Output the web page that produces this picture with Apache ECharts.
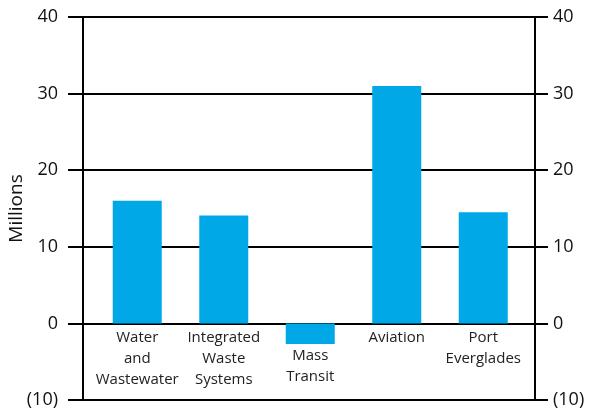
<!DOCTYPE html>
<html>
<head>
<meta charset="utf-8">
<script src="https://cdn.jsdelivr.net/npm/echarts@6/dist/echarts.min.js"></script>
<style>
  html, body { margin: 0; padding: 0; background: #fff; }
  #chart { width: 592px; height: 415px; }
</style>
</head>
<body>
<div id="chart"></div>
<script>
// Capital spending by department, in millions
const categories = ['Water\nand\nWastewater', 'Integrated\nWaste\nSystems', 'Mass\nTransit', 'Aviation', 'Port\nEverglades'];
const values = [16, 14.1, -2.7, 31, 14.5];
const yTicks = [-10, 0, 10, 20, 30, 40];

const FONT = '"Open Sans", "Noto Sans", sans-serif';
const tickFmt = v => (v < 0 ? '(' + Math.abs(v) + ')' : String(v));

const W = 592, H = 415;
const TOP = 17, BOTTOM = 15;
const yMin = yTicks[0], yMax = yTicks[yTicks.length - 1];
// category labels hang from the zero line, not from the bottom of the frame
const plotH = H - TOP - BOTTOM;
const zeroOffset = -plotH * (0 - yMin) / (yMax - yMin);

const yBase = {
  type: 'value',
  min: yMin,
  max: yMax,
  interval: yTicks[1] - yTicks[0]
};

const chart = echarts.init(document.getElementById('chart'), null, { renderer: 'canvas' });
chart.setOption({
  animation: false,
  backgroundColor: '#fff',
  grid: [
    // frame grid: axes, ticks and horizontal rules
    { left: 83, right: 57, top: TOP, bottom: BOTTOM, outerBoundsMode: 'none', containLabel: false },
    // bar grid: inset so the category bands sit inside the frame
    { left: 94, right: 65.5, top: TOP, bottom: BOTTOM, outerBoundsMode: 'none', containLabel: false }
  ],
  xAxis: [
    { gridIndex: 0, type: 'category', data: categories, show: false },
    {
      gridIndex: 1, type: 'category', data: categories,
      position: 'bottom', offset: zeroOffset,
      axisLine: { show: false, onZero: false },
      axisTick: { show: false },
      axisLabel: {
        interval: 0, margin: 4, color: '#222', fontFamily: FONT, fontSize: 15, lineHeight: 21,
        formatter: (v, i) => {
          const lines = v.split('\n').map(s => '{t|' + s + '}').join('\n');
          return values[i] < 0 ? '{gap|}\n' + lines : lines;
        },
        rich: {
          t: { fontFamily: FONT, fontSize: 15, lineHeight: 21, color: '#222' },
          gap: { height: 18, lineHeight: 18 }
        }
      }
    }
  ],
  yAxis: [
    Object.assign({}, yBase, {
      gridIndex: 0, position: 'left',
      name: 'Millions', nameLocation: 'middle', nameGap: 57, nameRotate: 90,
      nameMoveOverlap: false,
      nameTextStyle: { fontFamily: FONT, fontSize: 19, color: '#111' },
      axisLine: { show: true, lineStyle: { color: '#000', width: 2 } },
      axisTick: { show: true, length: 15, lineStyle: { color: '#000', width: 2 } },
      axisLabel: { formatter: tickFmt, margin: 25, fontFamily: FONT, fontSize: 18, color: '#111' },
      splitLine: { show: true, lineStyle: { color: '#000', width: 2 } }
    }),
    Object.assign({}, yBase, {
      gridIndex: 0, position: 'right',
      axisLine: { show: true, lineStyle: { color: '#000', width: 2 } },
      axisTick: { show: true, length: 13, lineStyle: { color: '#000', width: 2 } },
      axisLabel: { formatter: tickFmt, margin: 18, fontFamily: FONT, fontSize: 18, color: '#111' },
      splitLine: { show: false }
    }),
    Object.assign({}, yBase, { gridIndex: 1, show: false })
  ],
  series: [{
    type: 'bar',
    xAxisIndex: 1,
    yAxisIndex: 2,
    data: values,
    barWidth: 49,
    itemStyle: { color: '#00A8E8' },
    z: 3
  }]
});
</script>
</body>
</html>
